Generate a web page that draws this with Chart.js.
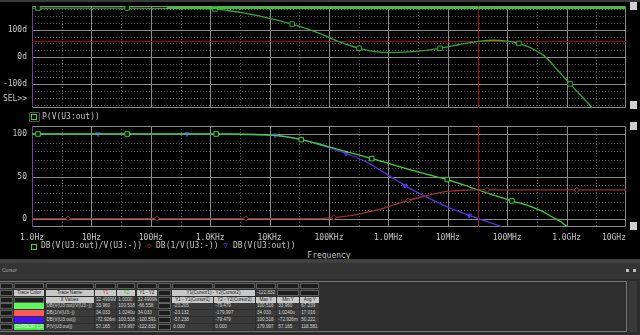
<!DOCTYPE html>
<html><head><meta charset="utf-8">
<script src="https://cdn.jsdelivr.net/npm/chart.js@4.4.0/dist/chart.umd.min.js"></script>
<style>
html,body{margin:0;padding:0;background:#000;width:640px;height:335px;overflow:hidden;}
#wrap{position:relative;width:640px;height:335px;background:#000;}
canvas{position:absolute;left:0;}
.t{position:absolute;color:#c4c4c4;font:8px 'DejaVu Sans Mono',monospace;line-height:8px;white-space:pre;}
.cell{position:absolute;box-sizing:border-box;height:6px;font:4.6px 'Liberation Sans',Arial,sans-serif;line-height:6px;white-space:pre;overflow:hidden;padding-left:1px;}
.d{background:#1c1c1c;border:1px solid #606060;}
.v{background:#3a3a3a;color:#d4d4d4;}
.h{background:#c8c8c8;color:#202020;text-align:center;padding-left:0;}
.sb{position:absolute;background:#cfcfcf;width:7px;height:8px;left:630px;}
</style></head>
<body><div id="wrap">
<div style="position:absolute;left:0;top:0;width:640px;height:2px;background:#3a3a3a"></div>
<canvas id="top" width="640" height="112" style="top:0"></canvas>
<canvas id="bot" width="640" height="126" style="top:120px"></canvas>
<div class="sb" style="top:2px"></div><div class="sb" style="top:101px"></div>
<div class="sb" style="top:122px"></div><div class="sb" style="top:222px"></div>
<div class="t" style="right:613px;top:95px">SEL&gt;&gt;</div>
<div style="position:absolute;left:29px;top:112px;width:9px;height:8px;border:1px solid #555;border-radius:1px"></div>
<div style="position:absolute;left:31px;top:114px;width:4px;height:4px;border:1px solid #3fd23f"></div>
<div class="t" style="left:42px;top:113px">P(V(U3:out))</div>
<div style="position:absolute;left:31px;top:244px;width:4px;height:4px;border:1px solid #3fd23f"></div>
<div class="t" style="left:41px;top:242px">DB(V(U3:out)/V(U3:-))</div>
<div class="t" style="left:147px;top:242px;color:#a03030">◇</div>
<div class="t" style="left:156px;top:242px">DB(1/V(U3:-))</div>
<div class="t" style="left:223px;top:242px;color:#5a2ee0">▽</div>
<div class="t" style="left:233px;top:242px">DB(V(U3:out))</div>
<div class="t" style="left:289px;top:252px;width:80px;text-align:center">Frequency</div>
<div style="position:absolute;left:0;top:259px;width:640px;height:4px;background:#404040"></div>
<div style="position:absolute;left:0;top:263px;width:640px;height:16px;background:#343434"></div>
<div style="position:absolute;left:2px;top:267px;color:#a8a8a8;font:5px 'Liberation Sans',sans-serif;line-height:6px">Cursor</div>
<div style="position:absolute;left:626px;top:269px;width:3px;height:3px;background:#bbb"></div>
<div style="position:absolute;left:633px;top:269px;width:3px;height:3px;background:#bbb"></div>
<div style="position:absolute;left:0;top:279px;width:640px;height:56px;background:#2c2c2c"></div>
<div style="position:absolute;left:-1px;top:281px;width:628px;height:51px;box-sizing:border-box;border:1px solid #7a7a7a;background:#2e2e2e"></div>
<div style="position:absolute;left:628px;top:281px;width:9px;height:51px;background:#383838"></div>
<div id="tbl"></div>
</div>
<script>
// ---------- data ----------
const xTicks = [1,1e1,1e2,1e3,1e4,1e5,1e6,1e7,1e8,1e9,1e10];
const xTickLabels = ['1.0Hz','10Hz','100Hz','1.0KHz','10KHz','100KHz','1.0MHz','10MHz','100MHz','1.0GHz','10GHz'];
const phaseTicks = [-100,0,100];
const dbTicks = [0,50,100];

// DB(V(U3:out)/V(U3:-))
const freqLoop = [1,1.26,40,1.26e3,1e4,1.8e4,3.4e4,6e4,1e5,2e5,5.25e5,1e6,2e6,5e6,9.8e6,2e7,3.25e7,6e7,1.2e8,2.5e8,4e8,6e8,8e8,1e9];
const dbLoop   = [100.518,100.518,100.518,100.5,99.3,97.4,93.8,89.5,85.3,79.4,71.3,65.5,59.5,51.5,46.4,39.3,33.96,27.8,21.0,14.3,8.2,1.0,-3.8,-9.4];
const markLoop = [1.26,40,1.26e3,3.4e4,5.25e5,9.8e6,1.2e8];

// DB(1/V(U3:-))
const freqFb = [1,4.07,126,3.98e3,5e4,8e4,1.2e5,2e5,3.5e5,6e5,1e6,2.14e6,4e6,7e6,1.2e7,2e7,3.25e7,4.57e7,1e8,1e9,1.48e9,1e10];
const dbFb   = [0.000001,0.000001,0.000001,0.000001,0.05,0.3,1.2,3.0,6.0,9.8,14.0,21.5,26.5,30.5,32.8,33.7,34.033,34.033,34.033,34.033,34.033,34.033];
const markFb = [4.07,126,3.98e3,1.2e5,2.14e6,4.57e7,1.48e9];

// DB(V(U3:out))
const freqOut = [1,12.9,407,1e4,1.23e4,2e4,3.4e4,6e4,1e5,1.95e5,4e5,1e6,1.9e6,4e6,1e7,2.29e7,3.25e7,5e7,8e7];
const dbOut   = [100.518,100.518,100.518,99.3,99.0,97.3,93.7,89.2,84.1,77.3,68.3,51.5,39.2,27.0,13.7,3.8,-0.073,-4.5,-9.4];
const markOut = [12.9,407,1.23e4,1.95e5,1.9e6,2.29e7];

// P(V(U3:out))
const freqPh = [1,1.26,40,1.2e3,2e3,3.8e3,8.5e3,2.4e4,6.6e4,1.5e5,3.2e5,1e6,2.5e6,7.4e6,1.58e7,3.25e7,6e7,1e8,1.58e8,2.5e8,4.4e8,7e8,1.15e9,1.8e9,2.7e9];
const degPh   = [179.997,179.997,179.99,176.5,171,161,146,121,89,56,32,16,19.5,32,46,57.165,61.5,58,50,33,1,-48,-99,-145,-187];
const markPh  = [1.26,40,1.2e3,2.4e4,3.2e5,7.4e6,1.58e8,1.15e9];

// cursors
const cursor1X = 32.4999e6;
const cursor1Phase = 57.165;
const cursor2Phase = 179.997;

// cursor table
const traceNames = ['DB(V(U3:out)/V(U3:-))','DB(1/V(U3:-))','DB(V(U3:out))','P(V(U3:out))'];
const traceColors = ['#5cf75c','#ff5a5a','#4412f2','#4cef4c'];
const colY1 = ['33.960','34.033','-72.926m','57.165'];
const colY2 = ['100.518','1.0240u','100.518','179.997'];
const colY1mY2 = ['-66.558','34.033','-100.591','-122.832'];
const colDY1 = ['-23.205','-23.132','-57.238','0.000'];
const colDY2 = ['-79.479','-179.997','-79.479','0.000'];
const colMax = ['100.518','34.033','100.518','179.997'];
const colMin = ['33.960','1.0240u','-72.926m','57.165'];
const colAvg = ['67.239','17.016','50.222','118.581'];

// ---------- charts ----------
const MONO = "'DejaVu Sans Mono', monospace";
function isMark(marks, f){ return marks.some(m => Math.abs(m/f - 1) < 1e-6); }
function ds(freqs, vals, marks, color, style, extra){
  return Object.assign({
    data: freqs.map((f,i)=>({x:f, y:vals[i]})),
    borderColor: color, borderWidth: 1.3,
    cubicInterpolationMode: 'monotone',
    pointStyle: style,
    pointRadius: c => isMark(marks, freqs[c.dataIndex]) ? 3.2 : 0,
    pointHoverRadius: 0,
    pointBorderColor: color, pointBorderWidth: 1,
    pointBackgroundColor: '#000'
  }, extra || {});
}
function framePlugin(cfg){
  return {
    id: 'frame_' + cfg.name,
    beforeDatasetsDraw(chart){
      const {ctx, chartArea:a, scales:{x, y}} = chart;
      const L=a.left, R=a.right, T=a.top, B=a.bottom;
      const s = v => Math.round(v) + 0.5;
      const hl = py => {ctx.beginPath(); ctx.moveTo(L,py); ctx.lineTo(R,py); ctx.stroke();};
      const vl = px => {ctx.beginPath(); ctx.moveTo(px,T); ctx.lineTo(px,B); ctx.stroke();};
      ctx.save();
      ctx.lineWidth = 1;
      ctx.strokeStyle = '#5c5c5c'; ctx.setLineDash([1,2]);
      xTicks.slice(0,-1).forEach(v => vl(s(x.getPixelForValue(v*Math.sqrt(10)))));
      cfg.minor.forEach(v => hl(s(y.getPixelForValue(v))));
      ctx.setLineDash([]); ctx.strokeStyle = '#8a8a8a';
      xTicks.slice(1,-1).forEach(v => vl(s(x.getPixelForValue(v))));
      cfg.major.forEach(v => hl(s(y.getPixelForValue(v))));
      // border
      ctx.strokeStyle = '#8a8a8a';
      ctx.beginPath(); ctx.moveTo(L, T+0.5); ctx.lineTo(R-0.5, T+0.5); ctx.lineTo(R-0.5, B-0.5); ctx.lineTo(L, B-0.5); ctx.stroke();
      ctx.strokeStyle = '#7a3a9a';
      ctx.beginPath(); ctx.moveTo(L+0.5, T); ctx.lineTo(L+0.5, B); ctx.stroke();
      // cursor 1
      ctx.strokeStyle = '#a80c0c';
      vl(s(x.getPixelForValue(cursor1X)));
      if (cfg.hCursor !== undefined) hl(s(y.getPixelForValue(cfg.hCursor)));
      ctx.restore();
    },
    afterDatasetsDraw(chart){
      if (cfg.greenCursor === undefined) return;
      const {ctx, chartArea:a, scales:{x, y}} = chart;
      ctx.save();
      ctx.strokeStyle = '#22d422'; ctx.lineWidth = 2;
      const py = y.getPixelForValue(cfg.greenCursor);
      ctx.beginPath(); ctx.moveTo(x.getPixelForValue(186), py); ctx.lineTo(a.right-1, py); ctx.stroke();
      ctx.restore();
    }
  };
}
function xScale(show){
  return {
    type: 'logarithmic', min: 1, max: 1e10, display: show,
    grid: {display: false, drawTicks: false}, border: {display: false},
    afterBuildTicks: sc => { sc.ticks = xTicks.map(v => ({value: v})); },
    afterFit: sc => { sc.paddingLeft = 0; sc.paddingRight = 0; if (show) sc.height = 19; },
    ticks: {
      autoSkip: false, maxRotation: 0, minRotation: 0, padding: 6,
      color: '#c4c4c4', font: {family: MONO, size: 8},
      callback: (v, i) => i === xTickLabels.length - 1 ? xTickLabels[i] + '     ' : xTickLabels[i]
    }
  };
}
function yScale(min, max, ticks, fmt){
  return {
    min, max,
    grid: {display: false, drawTicks: false}, border: {display: false},
    afterBuildTicks: sc => { sc.ticks = ticks.map(v => ({value: v})); },
    afterFit: sc => { sc.width = 32; sc.paddingTop = 0; sc.paddingBottom = 0; },
    ticks: {padding: 5, color: '#c4c4c4', font: {family: MONO, size: 8}, callback: fmt}
  };
}
const common = {
  responsive: false, animation: false, devicePixelRatio: 1,
  plugins: {legend: {display: false}, tooltip: {enabled: false}},
  events: []
};

new Chart(document.getElementById('top'), {
  type: 'line',
  data: {datasets: [ds(freqPh, degPh, markPh, '#33a833', 'rect')]},
  options: Object.assign({}, common, {
    layout: {padding: {top: 6, bottom: 4, left: 0, right: 14}},
    scales: {x: xScale(false), y: yScale(-187.5, 187.5, phaseTicks, v => v + 'd')}
  }),
  plugins: [framePlugin({name: 'top', major: [-100,0,100], minor: [-175,-150,-125,-75,-50,-25,25,50,75,125,150,175], hCursor: cursor1Phase, greenCursor: cursor2Phase})]
});

new Chart(document.getElementById('bot'), {
  type: 'line',
  data: {datasets: [
    ds(freqFb, dbFb, markFb, '#a03030', 'rectRot', {pointRadius: c => isMark(markFb, freqFb[c.dataIndex]) ? 2.6 : 0}),
    ds(freqLoop, dbLoop, markLoop, '#3fd23f', 'rect'),
    ds(freqOut, dbOut, markOut, '#5a2ee0', 'triangle', {pointRotation: 180, pointBackgroundColor: '#5a2ee0', pointRadius: c => isMark(markOut, freqOut[c.dataIndex]) ? 2.6 : 0})
  ]},
  options: Object.assign({}, common, {
    layout: {padding: {top: 6, bottom: 0, left: 0, right: 14}},
    scales: {x: xScale(true), y: yScale(-10, 110, dbTicks, v => String(v))}
  }),
  plugins: [framePlugin({name: 'bot', major: [0,50,100], minor: [10,20,30,40,60,70,80,90]})]
});

// ---------- cursor table ----------
const colX = [0,14,45.5,95,117.3,136.7,158.3,172.3,214.3,256,277.3,300.3,320.7];
const rowY = [282.7,290,296.7,303.3,310,317.3,324.3];
const tbl = document.getElementById('tbl');
function cell(r, c, kind, text, span, style){
  const d = document.createElement('div');
  d.className = 'cell ' + kind;
  const x0 = colX[c], x1 = colX[c + (span || 1)] - 1.4;
  d.style.left = x0 + 'px'; d.style.top = rowY[r] + 'px'; d.style.width = (x1 - x0) + 'px';
  if (style) Object.assign(d.style, style);
  d.textContent = text || '';
  tbl.appendChild(d);
}
for (let c = 0; c < 12; c++) cell(0, c, 'd');
cell(1,0,'d'); cell(1,1,'h','Trace Color'); cell(1,2,'h','Trace Name');
cell(1,3,'h','Y1',1,{color:'#e02020'}); cell(1,4,'h','Y2',1,{color:'#20c020'}); cell(1,5,'h','Y1 - Y2');
cell(1,6,'d'); cell(1,7,'h','Y1(Cursor1) - Y2(Cursor2)',2); cell(1,9,'v','-122.832'); cell(1,10,'d'); cell(1,11,'d');
cell(2,0,'d'); cell(2,1,'d'); cell(2,2,'h','X Values'); cell(2,3,'v','32.4999M'); cell(2,4,'v','1.0000'); cell(2,5,'v','32.4999M');
cell(2,6,'d'); cell(2,7,'h','Y1 - Y1(Cursor1)'); cell(2,8,'h','Y2 - Y2(Cursor2)'); cell(2,9,'h','Max Y'); cell(2,10,'h','Min Y'); cell(2,11,'h','Avg Y');
traceNames.forEach((n, i) => {
  const r = 3 + i;
  cell(r,0,'d');
  cell(r,1,'v', i === 3 ? 'CURSOR 1,2' : '', 1, {background: traceColors[i], color: '#f0f0f0'});
  cell(r,2,'v',n); cell(r,3,'v',colY1[i]); cell(r,4,'v',colY2[i]); cell(r,5,'v',colY1mY2[i]);
  cell(r,6,'d'); cell(r,7,'v',colDY1[i]); cell(r,8,'v',colDY2[i]); cell(r,9,'v',colMax[i]); cell(r,10,'v',colMin[i]); cell(r,11,'v',colAvg[i]);
});
</script>
</body></html>
